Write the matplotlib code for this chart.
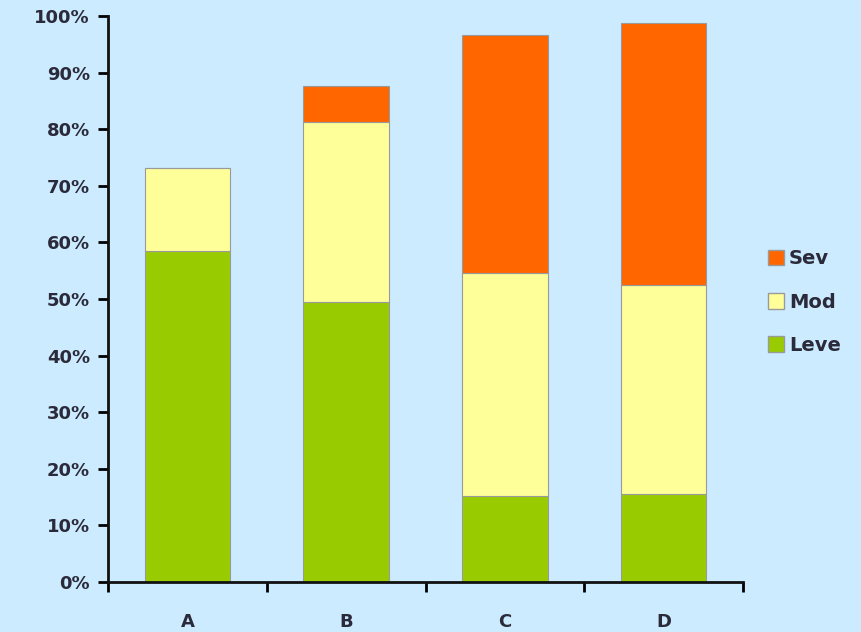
import matplotlib.pyplot as plt
import numpy as np
from matplotlib.patches import Patch
from matplotlib.ticker import FixedLocator, PercentFormatter

categories = ["A", "B", "C", "D"]
leve = [58.5, 49.5, 15.2, 15.6]
mod = [14.6, 31.8, 39.4, 36.9]
sev = [0.0, 6.4, 42.0, 46.3]

bg = "#CCEBFF"
colors = {"Leve": "#99CC00", "Mod": "#FFFF99", "Sev": "#FF6600"}
edge = "#9A9A9A"
txt = "#2a2a3a"

plt.rcParams["font.family"] = ["DejaVu Sans"]
plt.rcParams["font.weight"] = "bold"

fig = plt.figure(figsize=(8.61, 6.32), dpi=100, facecolor=bg)
ax = fig.add_axes([108 / 861, 50 / 632, 635 / 861, 566 / 632], facecolor=bg)

x = np.arange(len(categories))
w = 0.54
ax.bar(x, leve, w, color=colors["Leve"], edgecolor=edge, linewidth=0.8)
ax.bar(x, mod, w, bottom=leve, color=colors["Mod"], edgecolor=edge, linewidth=0.8)
bottom2 = np.array(leve) + np.array(mod)
ax.bar(x, sev, w, bottom=bottom2, color=colors["Sev"], edgecolor=edge, linewidth=0.8)

ax.set_xlim(-0.5, len(categories) - 0.5)
ax.set_ylim(0, 100)
ax.set_yticks(np.arange(0, 101, 10))
ax.yaxis.set_major_formatter(PercentFormatter(decimals=0))
ax.set_xticks(x)
ax.set_xticklabels(categories)
ax.xaxis.set_minor_locator(FixedLocator(np.arange(-0.5, len(categories), 1.0)))
ax.tick_params(axis="x", which="major", length=0, pad=22, labelsize=13, labelcolor=txt)
ax.tick_params(axis="x", which="minor", length=7, width=2, direction="out")
ax.tick_params(axis="y", length=7, width=2, direction="out", pad=6, labelsize=13, labelcolor=txt)

for s in ["top", "right"]:
    ax.spines[s].set_visible(False)
for s in ["left", "bottom"]:
    ax.spines[s].set_linewidth(2)
    ax.spines[s].set_color("#111111")

handles = [Patch(facecolor=colors[k], edgecolor=edge, label=k) for k in ["Sev", "Mod", "Leve"]]
fig.legend(handles=handles, loc="center left", bbox_to_anchor=(750 / 861, (632 - 302) / 632),
           frameon=False, fontsize=14, handlelength=0.85, handleheight=0.85, handletextpad=0.25,
           labelspacing=1.25, labelcolor=txt)

fig.savefig("out.png", dpi=100, facecolor=bg)
